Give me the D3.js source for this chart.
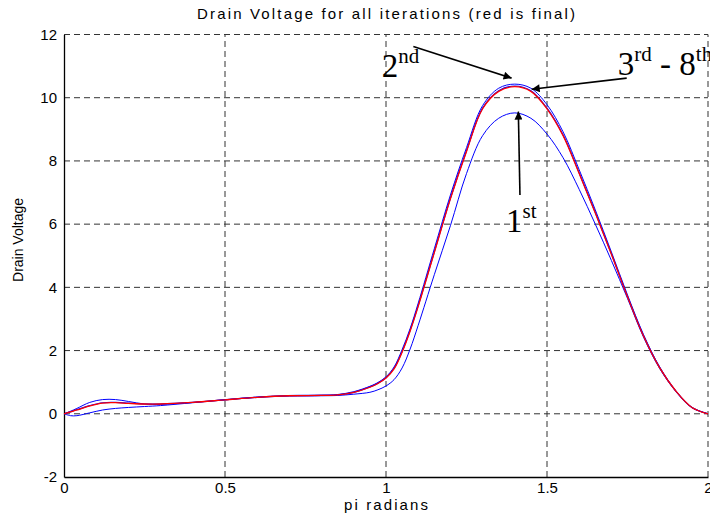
<!DOCTYPE html>
<html>
<head>
<meta charset="utf-8">
<script src="https://cdn.jsdelivr.net/npm/d3@7"></script>
<style>
  body { margin: 0; background: #fff; }
  svg { display: block; }
</style>
</head>
<body>
<svg id="chart" width="710" height="525"></svg>
<script>
// ---------------- data ----------------
const xValues = [0, 0.02, 0.04, 0.08, 0.12, 0.16, 0.2, 0.25, 0.3, 0.4, 0.5, 0.6, 0.7, 0.8, 0.85, 0.9, 0.95, 0.975,
  1.0, 1.025, 1.05, 1.075, 1.1, 1.15, 1.2, 1.25, 1.3, 1.35, 1.4, 1.45, 1.5, 1.55, 1.6, 1.65, 1.7, 1.75, 1.8, 1.85, 1.9, 1.95, 2.0];

const iter1 = [0, -0.06, -0.06, 0.03, 0.12, 0.17, 0.2, 0.23, 0.26, 0.35, 0.44, 0.52, 0.56, 0.57, 0.58, 0.62, 0.68, 0.76,
  0.88, 1.08, 1.45, 2.05, 2.8, 4.4, 5.95, 7.6, 8.8, 9.35, 9.52, 9.35, 8.85, 8.1, 7.1, 6.0, 4.85, 3.65, 2.42, 1.43, 0.71, 0.2, 0];

const iter2 = [0, 0.08, 0.17, 0.36, 0.45, 0.45, 0.39, 0.31, 0.3, 0.36, 0.45, 0.53, 0.58, 0.59, 0.61, 0.7, 0.87, 0.99,
  1.17, 1.48, 2.03, 2.7, 3.5, 5.22, 6.92, 8.42, 9.75, 10.3, 10.43, 10.3, 9.78, 8.92, 7.72, 6.45, 5.12, 3.76, 2.5, 1.48, 0.73, 0.2, 0];

const iter3 = [0, 0.06, 0.13, 0.26, 0.35, 0.36, 0.34, 0.31, 0.31, 0.36, 0.44, 0.52, 0.57, 0.58, 0.6, 0.68, 0.85, 0.97,
  1.14, 1.44, 1.97, 2.64, 3.42, 5.12, 6.82, 8.32, 9.67, 10.22, 10.37, 10.22, 9.67, 8.82, 7.62, 6.37, 5.06, 3.71, 2.46, 1.46, 0.72, 0.2, 0];

const finalIter = [0, 0.06, 0.12, 0.25, 0.34, 0.35, 0.33, 0.31, 0.31, 0.36, 0.44, 0.52, 0.57, 0.58, 0.6, 0.68, 0.84, 0.96,
  1.13, 1.42, 1.95, 2.62, 3.4, 5.1, 6.8, 8.3, 9.65, 10.2, 10.35, 10.2, 9.65, 8.8, 7.6, 6.35, 5.05, 3.7, 2.45, 1.45, 0.72, 0.2, 0];

const xTicks = [0, 0.5, 1, 1.5, 2];
const xTickLabels = ["0", "0.5", "1", "1.5", "2"];
const yTicks = [-2, 0, 2, 4, 6, 8, 10, 12];
const yTickLabels = ["-2", "0", "2", "4", "6", "8", "10", "12"];

const titleText = "Drain Voltage for all iterations (red is final)";
const xLabelText = "pi radians";
const yLabelText = "Drain Voltage";

// annotations in data coordinates
const annoTexts = [
  { base: "2", sup: "nd", x: 0.987, y: 10.67 },
  { base: "3", sup: "rd", base2: " - 8", sup2: "th", x: 1.72, y: 10.72 },
  { base: "1", sup: "st", x: 1.373, y: 5.75 }
];
const annoArrows = [
  { x1: 1.085, y1: 11.62, x2: 1.390, y2: 10.62 },
  { x1: 1.7475, y1: 10.62, x2: 1.4525, y2: 10.27 },
  { x1: 1.416, y1: 6.92, x2: 1.411, y2: 9.56 }
];

// ---------------- drawing ----------------
const sans = '"Liberation Sans", Arial, Helvetica, sans-serif';
const serif = '"Liberation Serif", "Times New Roman", serif';
const svg = d3.select("#chart");
const mLeft = 64, mRight = 708, mTop = 34.5, mBottom = 477;

const x = d3.scaleLinear().domain([0, 2]).range([mLeft, mRight]);
const y = d3.scaleLinear().domain([-2, 12]).range([mBottom, mTop]);

const gridColor = "#333";

// grid lines
const grid = svg.append("g");
grid.selectAll("line.v").data(xTicks.filter(d => d > 0)).enter().append("line")
  .attr("x1", d => x(d)).attr("x2", d => x(d))
  .attr("y1", y(-2)).attr("y2", y(12))
  .attr("stroke", gridColor).attr("stroke-width", 1).attr("stroke-dasharray", "6,4");
grid.selectAll("line.h").data(yTicks.filter(d => d > -2)).enter().append("line")
  .attr("x1", x(0)).attr("x2", x(2))
  .attr("y1", d => y(d)).attr("y2", d => y(d))
  .attr("stroke", gridColor).attr("stroke-width", 1).attr("stroke-dasharray", "6,4");

// axes
const xAxis = d3.axisBottom(x).tickValues(xTicks).tickFormat((d, i) => xTickLabels[i]).tickSize(0).tickPadding(5);
const yAxis = d3.axisLeft(y).tickValues(yTicks).tickFormat((d, i) => yTickLabels[i]).tickSize(0).tickPadding(7);

const gx = svg.append("g").attr("transform", `translate(0,${mBottom})`).call(xAxis);
const gy = svg.append("g").attr("transform", `translate(${mLeft},0)`).call(yAxis);
[gx, gy].forEach(g => {
  g.attr("font-family", sans);
  g.select(".domain").attr("stroke", "#000").attr("stroke-width", 1.3);
  g.selectAll("text").attr("font-size", 15).attr("fill", "#000");
});

// lines
const line = d3.line()
  .x((d, i) => x(xValues[i]))
  .y(d => y(d))
  .curve(d3.curveCatmullRom.alpha(0.5));

const plotG = svg.append("g");
plotG.append("path").datum(iter1).attr("d", line).attr("fill", "none").attr("stroke", "#0000ff").attr("stroke-width", 1);
plotG.append("path").datum(iter2).attr("d", line).attr("fill", "none").attr("stroke", "#0000ff").attr("stroke-width", 1);
plotG.append("path").datum(iter3).attr("d", line).attr("fill", "none").attr("stroke", "#0000ff").attr("stroke-width", 1.2);
plotG.append("path").datum(finalIter).attr("d", line).attr("fill", "none").attr("stroke", "#ff0000").attr("stroke-width", 1.3);

// title and labels
svg.append("text").attr("x", x(1)).attr("y", 19).attr("text-anchor", "middle")
  .attr("font-family", sans).attr("font-size", 15).attr("fill", "#000").text(titleText)
  .attr("textLength", 378).attr("lengthAdjust", "spacing");

svg.append("text").attr("x", x(1)).attr("y", 510).attr("text-anchor", "middle")
  .attr("font-family", sans).attr("font-size", 15).attr("fill", "#000").text(xLabelText)
  .attr("textLength", 84).attr("lengthAdjust", "spacing");

svg.append("text").attr("transform", `translate(23,${y(5.5)}) rotate(-90)`).attr("text-anchor", "middle")
  .attr("font-family", sans).attr("font-size", 14).attr("fill", "#000").text(yLabelText);

// arrows
const defs = svg.append("defs");
defs.append("marker").attr("id", "ah").attr("viewBox", "0 0 10 10")
  .attr("refX", 10).attr("refY", 5).attr("markerWidth", 10).attr("markerHeight", 8)
  .attr("markerUnits", "userSpaceOnUse").attr("orient", "auto")
  .append("path").attr("d", "M0,0 L10,5 L0,10 Z").attr("fill", "#000");

svg.append("g").selectAll("line").data(annoArrows).enter().append("line")
  .attr("x1", d => x(d.x1)).attr("y1", d => y(d.y1))
  .attr("x2", d => x(d.x2)).attr("y2", d => y(d.y2))
  .attr("stroke", "#000").attr("stroke-width", 1.6).attr("marker-end", "url(#ah)");

// annotation texts
annoTexts.forEach(a => {
  const t = svg.append("text").attr("x", x(a.x)).attr("y", y(a.y))
    .attr("font-family", serif).attr("font-size", 33).attr("fill", "#000")
    .style("white-space", "pre");
  t.append("tspan").text(a.base);
  t.append("tspan").attr("dy", -14).attr("font-size", 21).text(a.sup);
  if (a.base2) {
    t.append("tspan").attr("dy", 14).attr("font-size", 33).text(a.base2);
    t.append("tspan").attr("dy", -14).attr("font-size", 21).text(a.sup2);
  }
});
</script>
</body>
</html>
